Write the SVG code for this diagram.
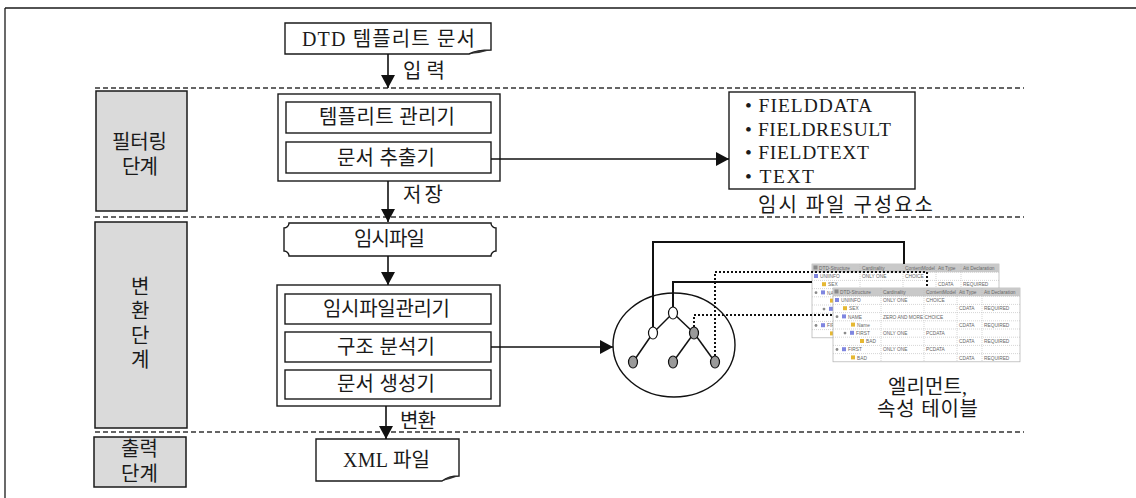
<svg xmlns="http://www.w3.org/2000/svg" xmlns:xlink="http://www.w3.org/1999/xlink" width="1136" height="498" viewBox="0 0 1136 498">
  <style>
    .t { font-family: "Liberation Serif", "Noto Sans CJK KR", serif; font-size: 20px; fill: #1a1a1a; }
    .fl { font-family: "Liberation Serif", "Noto Sans CJK KR", serif; font-size: 19.5px; fill: #1a1a1a; }
    .box { fill: #fff; stroke: #1a1a1a; stroke-width: 1.4; }
    .stage { fill: #dadada; stroke: #1a1a1a; stroke-width: 1.5; }
    .dash { fill: none; stroke: #333; stroke-width: 1.3; stroke-dasharray: 5 3; }
    .arrow { fill: none; stroke: #111; stroke-width: 1.6; marker-end: url(#ah); }
    .link { fill: none; stroke: #111; stroke-width: 2; }
    .dot { fill: none; stroke: #111; stroke-width: 2; stroke-dasharray: 2 2; }
    .edge { fill: none; stroke: #111; stroke-width: 1.5; }
    .nw { fill: #fff; stroke: #111; stroke-width: 1.2; }
    .ng { fill: #9a9a9a; stroke: #111; stroke-width: 1.2; }
    .tt { font-family: "Liberation Sans", sans-serif; font-size: 4.8px; fill: #666; }
    .grid { stroke: #b8b8b8; stroke-width: 0.6; stroke-dasharray: 1 1; }
    .ib { fill: #7f86e0; }
    .iy { fill: #e6b832; }
    .ip { fill: #8a8a8a; }
  </style>
  <defs>
    <marker id="ah" markerUnits="userSpaceOnUse" markerWidth="13" markerHeight="14" viewBox="0 0 13 14" refX="13" refY="7" orient="auto">
      <path d="M0,0 L13,7 L0,14 Z" fill="#111"/>
    </marker>
    <!-- element / attribute table -->
    <g id="tbl">
      <rect x="0" y="0" width="187" height="73.8" fill="#fff" stroke="#b0b0b0" stroke-width="0.7"/>
      <rect x="0" y="0" width="187" height="8.2" fill="#c9c9c9"/>
      <g class="grid">
        <line x1="48" y1="0" x2="48" y2="73.8"/>
        <line x1="91" y1="0" x2="91" y2="73.8"/>
        <line x1="124" y1="0" x2="124" y2="73.8"/>
        <line x1="149" y1="0" x2="149" y2="73.8"/>
        <line x1="0" y1="8.2" x2="187" y2="8.2"/>
        <line x1="0" y1="16.4" x2="187" y2="16.4"/>
        <line x1="0" y1="24.6" x2="187" y2="24.6"/>
        <line x1="0" y1="32.8" x2="187" y2="32.8"/>
        <line x1="0" y1="41" x2="187" y2="41"/>
        <line x1="0" y1="49.2" x2="187" y2="49.2"/>
        <line x1="0" y1="57.4" x2="187" y2="57.4"/>
        <line x1="0" y1="65.6" x2="187" y2="65.6"/>
      </g>
      <!-- header -->
      <rect x="1.5" y="1.5" width="4" height="4" class="ip"/>
      <text class="tt" x="7" y="6">DTD-Structure</text>
      <text class="tt" x="50" y="6">Cardinality</text>
      <text class="tt" x="93" y="6">ContentModel</text>
      <text class="tt" x="126" y="6">Att Type</text>
      <text class="tt" x="151" y="6">Att Declaration</text>
      <!-- rows -->
      <rect x="2" y="10" width="4" height="4" class="ib"/>
      <text class="tt" x="8" y="14.2">UNIINFO</text>
      <text class="tt" x="50" y="14.2">ONLY ONE</text>
      <text class="tt" x="93" y="14.2">CHOICE</text>

      <rect x="10" y="18.2" width="4" height="4" class="iy"/>
      <text class="tt" x="16" y="22.4">SEX</text>
      <text class="tt" x="126" y="22.4">CDATA</text>
      <text class="tt" x="151" y="22.4">REQUIRED</text>

      <circle cx="4" cy="28.7" r="1.4" class="ip"/>
      <rect x="9" y="26.4" width="4" height="4" class="ib"/>
      <text class="tt" x="15" y="30.6">NAME</text>
      <text class="tt" x="50" y="30.6">ZERO AND MORE</text>
      <text class="tt" x="91.5" y="30.6">CHOICE</text>

      <rect x="18" y="34.6" width="4" height="4" class="iy"/>
      <text class="tt" x="24" y="38.8">Name</text>
      <text class="tt" x="126" y="38.8">CDATA</text>
      <text class="tt" x="151" y="38.8">REQUIRED</text>

      <circle cx="12" cy="45.1" r="1.4" class="ip"/>
      <rect x="17" y="42.8" width="4" height="4" class="ib"/>
      <text class="tt" x="23" y="47">FIRST</text>
      <text class="tt" x="50" y="47">ONLY ONE</text>
      <text class="tt" x="93" y="47">PCDATA</text>

      <rect x="27" y="51" width="4" height="4" class="iy"/>
      <text class="tt" x="33" y="55.2">BAD</text>
      <text class="tt" x="126" y="55.2">CDATA</text>
      <text class="tt" x="151" y="55.2">REQUIRED</text>

      <circle cx="4" cy="61.5" r="1.4" class="ip"/>
      <rect x="9" y="59.2" width="4" height="4" class="ib"/>
      <text class="tt" x="15" y="63.4">FIRST</text>
      <text class="tt" x="50" y="63.4">ONLY ONE</text>
      <text class="tt" x="93" y="63.4">PCDATA</text>

      <rect x="18" y="67.4" width="4" height="4" class="iy"/>
      <text class="tt" x="24" y="71.6">BAD</text>
      <text class="tt" x="126" y="71.6">CDATA</text>
      <text class="tt" x="151" y="71.6">REQUIRED</text>
    </g>
  </defs>

  <rect x="0" y="0" width="1136" height="498" fill="#fff"/>

  <!-- frame -->
  <g id="frame" fill="none" stroke="#1a1a1a" stroke-width="1.3">
    <line x1="5" y1="8" x2="1136" y2="8"/>
    <line x1="5" y1="8" x2="5" y2="498"/>
  </g>

  <!-- stage separators -->
  <g id="separators">
    <line class="dash" x1="95" y1="88" x2="1024" y2="88"/>
    <line class="dash" x1="95" y1="217" x2="1024" y2="217"/>
    <line class="dash" x1="95" y1="432" x2="1024" y2="432"/>
  </g>

  <!-- stage labels -->
  <g id="stage-filter">
    <rect class="stage" x="96" y="91" width="91" height="120"/>
    <text class="t" x="112" y="149" textLength="55" lengthAdjust="spacing">필터링</text>
    <text class="t" x="122" y="174" textLength="36" lengthAdjust="spacing">단계</text>
  </g>
  <g id="stage-convert">
    <rect class="stage" x="95" y="222" width="92" height="206"/>
    <text class="t" x="131" y="294">변</text>
    <text class="t" x="131" y="318">환</text>
    <text class="t" x="131" y="343">단</text>
    <text class="t" x="131" y="367">계</text>
  </g>
  <g id="stage-output">
    <rect class="stage" x="94" y="437" width="92" height="50"/>
    <text class="t" x="121" y="456" textLength="37" lengthAdjust="spacing">출력</text>
    <text class="t" x="121" y="481" textLength="37" lengthAdjust="spacing">단계</text>
  </g>

  <!-- input document -->
  <g id="dtd-doc">
    <path class="box" d="M285,23 H491 V50 C484,50 475,51 469,54 H285 Z"/>
    <path d="M469,54 L477,51 L491,50 L479,53 Z" fill="#333"/>
    <text class="t" x="302" y="46" textLength="173" lengthAdjust="spacing">DTD 템플리트 문서</text>
  </g>

  <!-- filtering module -->
  <g id="filter-module">
    <rect class="box" x="278" y="94" width="222" height="87"/>
    <rect class="box" x="286" y="102" width="205" height="31"/>
    <text class="t" x="319" y="124" textLength="136" lengthAdjust="spacing">템플리트 관리기</text>
    <rect class="box" x="286" y="142" width="205" height="31"/>
    <text class="t" x="337" y="165" textLength="98" lengthAdjust="spacing">문서 추출기</text>
  </g>

  <!-- temp file element list -->
  <g id="temp-elements">
    <rect class="box" x="729" y="92" width="186" height="97"/>
    <text class="fl" x="745" y="112" textLength="127" lengthAdjust="spacing">• FIELDDATA</text>
    <text class="fl" x="745" y="136" textLength="146" lengthAdjust="spacing">• FIELDRESULT</text>
    <text class="fl" x="745" y="159" textLength="124" lengthAdjust="spacing">• FIELDTEXT</text>
    <text class="fl" x="745" y="183" textLength="69" lengthAdjust="spacing">• TEXT</text>
    <text class="t" x="758" y="212" textLength="175" lengthAdjust="spacing">임시 파일 구성요소</text>
  </g>

  <!-- temp file -->
  <g id="temp-file">
    <path class="box" d="M289,223 H491 A5,5 0 0 0 496,228 V251 A5,5 0 0 0 491,256 H289 A5,5 0 0 0 284,251 V228 A5,5 0 0 0 289,223 Z"/>
    <text class="t" x="354" y="246" textLength="71" lengthAdjust="spacing">임시파일</text>
  </g>

  <!-- conversion module -->
  <g id="convert-module">
    <rect class="box" x="277" y="285" width="223" height="121"/>
    <rect class="box" x="285" y="294" width="206" height="30"/>
    <text class="t" x="323" y="316" textLength="127" lengthAdjust="spacing">임시파일관리기</text>
    <rect class="box" x="285" y="332" width="206" height="30"/>
    <text class="t" x="337" y="354" textLength="98" lengthAdjust="spacing">구조 분석기</text>
    <rect class="box" x="285" y="370" width="206" height="29"/>
    <text class="t" x="337" y="391" textLength="98" lengthAdjust="spacing">문서 생성기</text>
  </g>

  <!-- output document -->
  <g id="xml-doc">
    <path class="box" d="M316,439 H459 V476 C452,476 446,478 442,481 H316 Z"/>
    <path d="M442,481 L449,477 L459,476 L450,479 Z" fill="#333"/>
    <text class="t" x="343" y="467" textLength="87" lengthAdjust="spacing">XML 파일</text>
  </g>

  <!-- tables -->
  <g id="tables">
    <use xlink:href="#tbl" x="812" y="264"/>
    <use xlink:href="#tbl" x="833" y="288"/>
    <text class="t" x="888" y="394" textLength="79" lengthAdjust="spacing">엘리먼트,</text>
    <text class="t" x="877" y="416" textLength="101" lengthAdjust="spacing">속성 테이블</text>
  </g>

  <!-- connectors -->
  <g id="connectors">
    <path class="arrow" d="M388,54 V88"/>
    <text class="t" x="403" y="78" textLength="42" lengthAdjust="spacing">입력</text>
    <path class="arrow" d="M388,181 V222"/>
    <text class="t" x="403" y="202" textLength="40" lengthAdjust="spacing">저장</text>
    <path class="arrow" d="M388,256 V285"/>
    <path class="arrow" d="M386,406 V439"/>
    <text class="t" x="400" y="428" textLength="36" lengthAdjust="spacing">변환</text>
    <path class="arrow" d="M491,159 H729"/>
    <path class="arrow" d="M491,347 H613"/>

    <!-- links from the tree to the tables -->
    <path class="link" d="M653,327 V242 H904 V264"/>
    <path class="link" d="M673,307 V282 H812"/>
    <path class="dot" d="M715,356 V272 H927 V288"/>
    <path class="dot" d="M694,327 V315 H833"/>
  </g>

  <!-- structure tree -->
  <g id="tree">
    <ellipse cx="674" cy="345" rx="61" ry="52" fill="none" stroke="#111" stroke-width="1.4"/>
    <g class="edge">
      <line x1="673" y1="313" x2="653" y2="333"/>
      <line x1="673" y1="313" x2="694" y2="333"/>
      <line x1="653" y1="333" x2="633" y2="362"/>
      <line x1="694" y1="333" x2="673" y2="362"/>
      <line x1="694" y1="333" x2="715" y2="362"/>
    </g>
    <ellipse class="nw" cx="673" cy="313" rx="4.5" ry="6"/>
    <ellipse class="nw" cx="653" cy="333" rx="4.5" ry="6"/>
    <ellipse class="ng" cx="694" cy="333" rx="4.5" ry="6"/>
    <ellipse class="ng" cx="633" cy="362" rx="4.5" ry="6"/>
    <ellipse class="ng" cx="673" cy="362" rx="4.5" ry="6"/>
    <ellipse class="ng" cx="715" cy="362" rx="4.5" ry="6"/>
  </g>
</svg>
